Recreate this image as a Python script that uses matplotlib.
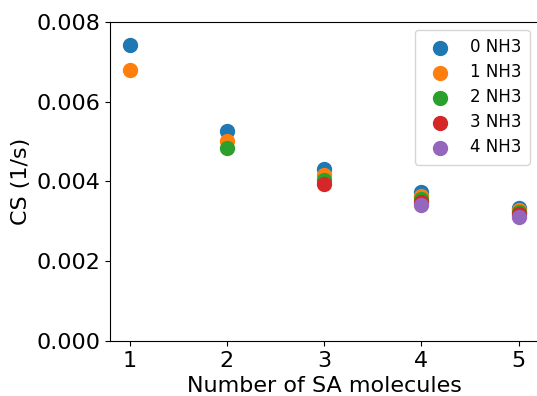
import matplotlib
matplotlib.use("Agg")
import matplotlib.pyplot as plt
import numpy as np

sa_molecules = [1, 2, 3, 4, 5]
series_labels = ['0 NH3', '1 NH3', '2 NH3', '3 NH3', '4 NH3']

cs_0nh3 = [0.00743, 0.00526, 0.00430, 0.00373, 0.00333]
cs_1nh3 = [0.00680, 0.00502, 0.00416, 0.00364, 0.00327]
cs_2nh3 = [np.nan, 0.00483, 0.00404, 0.00356, 0.00322]
cs_3nh3 = [np.nan, np.nan, 0.00393, 0.00349, 0.00317]
cs_4nh3 = [np.nan, np.nan, np.nan, 0.00342, 0.00311]

all_series = [cs_0nh3, cs_1nh3, cs_2nh3, cs_3nh3, cs_4nh3]
colors = ['#1f77b4', '#ff7f0e', '#2ca02c', '#d62728', '#9467bd']

fig = plt.figure(figsize=(5.37, 3.96), dpi=100)
# axes run up to the right edge of the figure (original is cropped there)
ax = fig.add_axes([0.205, 0.139, 0.797, 0.806])
ax.spines['right'].set_visible(False)

for values, label, color in zip(all_series, series_labels, colors):
    ax.scatter(sa_molecules, values, s=100, color=color, label=label, zorder=3)

ax.set_ylim(0, 0.008)
ax.set_yticks([0, 0.002, 0.004, 0.006, 0.008])
ax.set_xticks(sa_molecules)
ax.tick_params(labelsize=16)
ax.set_xlabel('Number of SA molecules', fontsize=16)
ax.set_ylabel('CS (1/s)', fontsize=16)
ax.legend(fontsize=12, loc='upper right', labelspacing=0.42,
          handletextpad=0.8, borderpad=0.5)

fig.savefig('out.png', dpi=100)
